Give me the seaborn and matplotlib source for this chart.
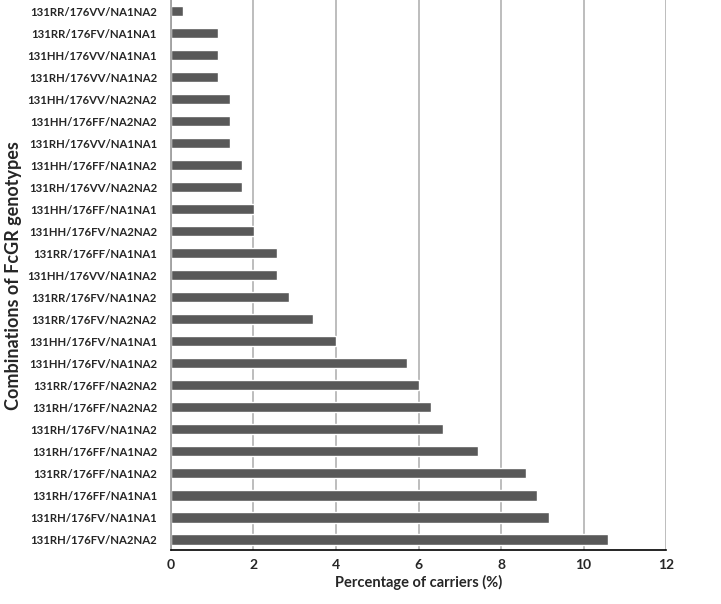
import matplotlib
matplotlib.use("Agg")
import matplotlib.pyplot as plt
import seaborn as sns
import pandas as pd

genotypes = [
    "131RR/176VV/NA1NA2", "131RR/176FV/NA1NA1", "131HH/176VV/NA1NA1",
    "131RH/176VV/NA1NA2", "131HH/176VV/NA2NA2", "131HH/176FF/NA2NA2",
    "131RH/176VV/NA1NA1", "131HH/176FF/NA1NA2", "131RH/176VV/NA2NA2",
    "131HH/176FF/NA1NA1", "131HH/176FV/NA2NA2", "131RR/176FF/NA1NA1",
    "131HH/176VV/NA1NA2", "131RR/176FV/NA1NA2", "131RR/176FV/NA2NA2",
    "131HH/176FV/NA1NA1", "131HH/176FV/NA1NA2", "131RR/176FF/NA2NA2",
    "131RH/176FF/NA2NA2", "131RH/176FV/NA1NA2", "131RH/176FF/NA1NA2",
    "131RR/176FF/NA1NA2", "131RH/176FF/NA1NA1", "131RH/176FV/NA1NA1",
    "131RH/176FV/NA2NA2",
]
percent = [
    0.29, 1.15, 1.15, 1.15, 1.43, 1.43, 1.43, 1.72, 1.72, 2.01, 2.01,
    2.58, 2.58, 2.87, 3.44, 4.01, 5.73, 6.02, 6.30, 6.59, 7.45, 8.60,
    8.88, 9.17, 10.60,
]
x_ticks = [0, 2, 4, 6, 8, 10, 12]

df = pd.DataFrame({"genotype": genotypes, "percent": percent})

sns.set_style("white")
plt.rcParams["font.family"] = ["Lato", "DejaVu Sans"]

fig = plt.figure(figsize=(7.21, 6.04), dpi=100)
ax = fig.add_axes([0.237, 0.089, 0.687, 0.911])

sns.barplot(data=df, x="percent", y="genotype", orient="h", color="#595959",
            saturation=1, width=0.48, ax=ax)

ax.set_xlim(0, 12)
ax.set_ylim(len(genotypes) - 0.5, -0.5)
ax.set_xticks(x_ticks)
ax.set_xticklabels([str(t) for t in x_ticks], fontsize=10, fontweight="bold")
for lab in ax.get_yticklabels():
    lab.set_fontsize(8.2)
    lab.set_fontweight("bold")
ax.tick_params(axis="y", length=0, pad=10)
ax.tick_params(axis="x", direction="out", length=4, width=1, color="black", pad=2)
ax.xaxis.grid(True, color="#b8b8b8", linewidth=1.3)
ax.set_axisbelow(True)

for s in ["top", "right"]:
    ax.spines[s].set_visible(False)
ax.spines["left"].set_color("#a0a0a0")
ax.spines["left"].set_linewidth(1.3)
ax.spines["bottom"].set_color("black")
ax.spines["bottom"].set_linewidth(1.2)

ax.set_xlabel("Percentage of carriers (%)", fontsize=10.5, fontweight="bold", labelpad=3)
ax.set_ylabel("Combinations of FcGR genotypes", fontsize=13, fontweight="bold", labelpad=4)

fig.savefig("out.png", dpi=100)
